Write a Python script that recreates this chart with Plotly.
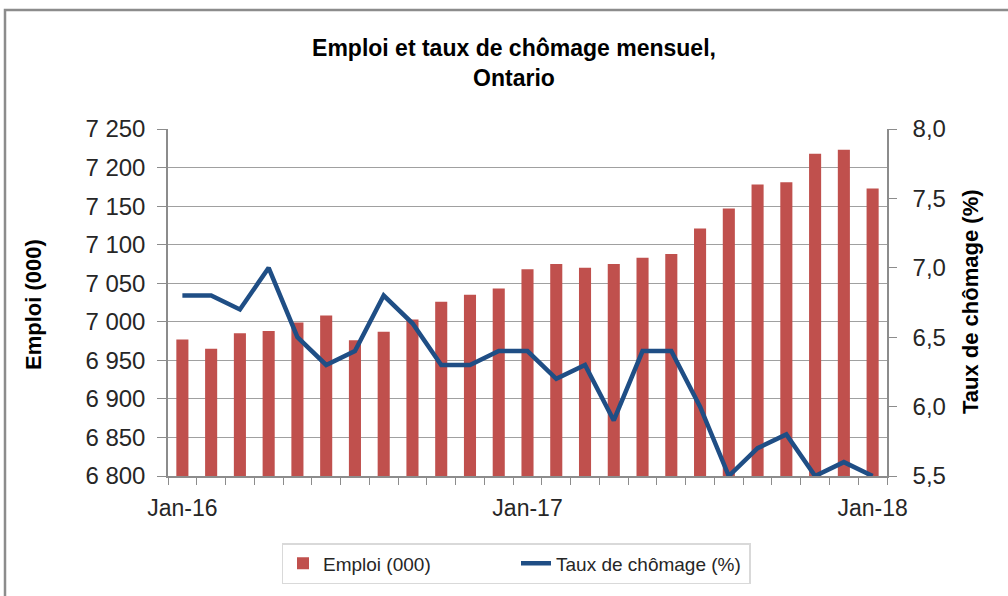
import plotly.graph_objects as go

months = ["Jan-16", "Feb-16", "Mar-16", "Apr-16", "May-16", "Jun-16", "Jul-16", "Aug-16",
          "Sep-16", "Oct-16", "Nov-16", "Dec-16", "Jan-17", "Feb-17", "Mar-17", "Apr-17",
          "May-17", "Jun-17", "Jul-17", "Aug-17", "Sep-17", "Oct-17", "Nov-17", "Dec-17", "Jan-18"]
emploi = [6977, 6965, 6985, 6988, 6999, 7008, 6976, 6987, 7003, 7026, 7035, 7043,
          7068, 7075, 7070, 7075, 7083, 7088, 7121, 7147, 7178, 7181, 7218, 7223, 7173]
chomage = [6.8, 6.8, 6.7, 7.0, 6.5, 6.3, 6.4, 6.8, 6.6, 6.3, 6.3, 6.4,
           6.4, 6.2, 6.3, 5.9, 6.4, 6.4, 6.0, 5.5, 5.7, 5.8, 5.5, 5.6, 5.5]
label_months = ["Jan-16", "Jan-17", "Jan-18"]

idx = list(range(len(months)))
label_idx = [months.index(m) for m in label_months]

FONT = "Liberation Sans, Arial, sans-serif"
RED = "#C0504D"
BLUE = "#1F4E85"
GRID = "#A0A0A0"
AXIS = "#8C8C8C"

fig = go.Figure()
fig.add_trace(go.Bar(x=idx, y=emploi, name="Emploi (000)", marker_color=RED,
                     marker_line_width=0, width=0.42, yaxis="y"))
fig.add_trace(go.Scatter(x=idx, y=chomage, name="Taux de chômage (%)", mode="lines",
                         line=dict(color=BLUE, width=4.5), yaxis="y2"))

L, R, T, B = 168, 887, 129, 476
W, H = 1008, 596

fig.update_layout(
    width=W, height=H,
    margin=dict(l=L, r=W - R, t=T, b=H - B, pad=0),
    paper_bgcolor="white", plot_bgcolor="white",
    separators=", ",
    font=dict(family=FONT, color="#262626"),
    showlegend=True,
    title=dict(text="<b>Emploi et taux de chômage mensuel,<br>Ontario</b>",
               x=514 / W, xanchor="center", y=1 - 56 / H, yanchor="middle",
               font=dict(size=23, color="#000000")),
    xaxis=dict(range=[-0.5, len(months) - 0.5], tickvals=label_idx, ticktext=label_months,
               ticks="", showgrid=False, zeroline=False,
               showline=True, linecolor=AXIS, linewidth=1.5,
               tickfont=dict(size=23, color="#262626"), ticklabelstandoff=11,
               minor=dict(tickmode="linear", tick0=-0.5, dtick=1, ticks="outside",
                          ticklen=7, tickcolor=AXIS, tickwidth=1.2, showgrid=False)),
    yaxis=dict(range=[6800, 7250], dtick=50, tickformat=",d",
               showgrid=True, gridcolor=GRID, gridwidth=1.3,
               showline=True, linecolor=AXIS, linewidth=1.5, zeroline=False,
               ticks="outside", ticklen=9, tickcolor=AXIS, tickwidth=1.2,
               tickfont=dict(size=24, color="#262626"), ticklabelstandoff=7),
    yaxis2=dict(range=[5.5, 8.0], dtick=0.5, tickformat=".1f", overlaying="y", side="right",
                showgrid=False, showline=True, linecolor=AXIS, linewidth=1.5, zeroline=False,
                ticks="outside", ticklen=8, tickcolor=AXIS, tickwidth=1.2,
                tickfont=dict(size=24, color="#262626"), ticklabelstandoff=11),
    legend=dict(orientation="h", x=(516 - L) / (R - L), xanchor="center",
                y=(B - 543) / (B - T), yanchor="top",
                bgcolor="white", bordercolor="#D9D9D9", borderwidth=1.5,
                font=dict(size=19, color="#262626"), entrywidth=188, traceorder="normal"),
    annotations=[
        dict(text="<b>Emploi (000)</b>", textangle=-90, xref="paper", yref="paper",
             x=(33 - L) / (R - L), y=(B - 305) / (B - T), xanchor="center", yanchor="middle",
             showarrow=False, font=dict(size=22, color="#000000")),
        dict(text="<b>Taux de chômage (%)</b>", textangle=-90, xref="paper", yref="paper",
             x=(970 - L) / (R - L), y=(B - 302) / (B - T), xanchor="center", yanchor="middle",
             showarrow=False, font=dict(size=22, color="#000000")),
    ],
    shapes=[
        dict(type="rect", xref="paper", yref="paper",
             x0=(5 - L) / (R - L), x1=(1030 - L) / (R - L),
             y0=(B - 620) / (B - T), y1=(B - 10) / (B - T),
             line=dict(color="#8C8C8C", width=2.5), fillcolor="rgba(0,0,0,0)", layer="below"),
    ],
)

fig.write_html("out.html", config={"displayModeBar": False},
               post_script="document.body.style.margin='0';")
